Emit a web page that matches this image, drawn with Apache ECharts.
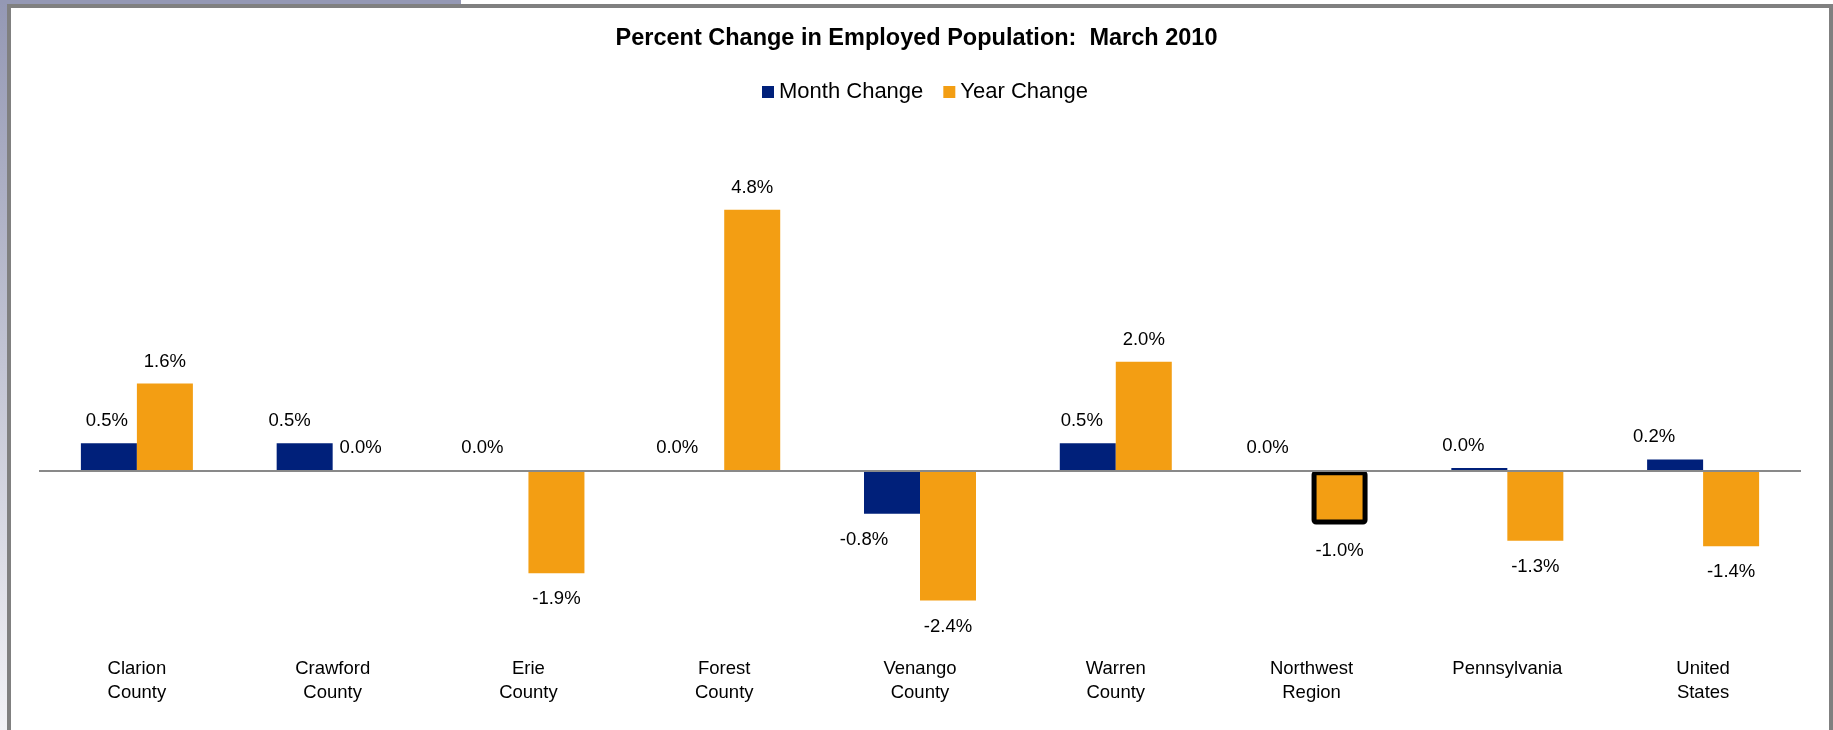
<!DOCTYPE html>
<html>
<head>
<meta charset="utf-8">
<script src="https://cdn.jsdelivr.net/npm/echarts@6/dist/echarts.min.js"></script>
<style>
  html, body { margin: 0; padding: 0; background: #ffffff; }
  #chart { width: 1833px; height: 730px; }
</style>
</head>
<body>
<div id="chart"></div>
<script>
// ---- data ----
const chartTitle = 'Percent Change in Employed Population:  March 2010';
const seriesNames = ['Month Change', 'Year Change'];
const categories = ['Clarion\nCounty', 'Crawford\nCounty', 'Erie\nCounty', 'Forest\nCounty', 'Venango\nCounty', 'Warren\nCounty', 'Northwest\nRegion', 'Pennsylvania', 'United\nStates'];
const monthChange = [0.5, 0.5, 0.0, 0.0, -0.8, 0.5, 0.0, 0.04, 0.2];
const yearChange = [1.6, 0.0, -1.9, 4.8, -2.4, 2.0, -1.0, -1.3, -1.4];

// ---- style ----
const BLUE = '#00207a';
const ORANGE = '#f39e13';
const LABEL_FONT = "'Liberation Sans', Arial, sans-serif";
const monthLabelShift = [-2, -15, -18, -19, -28, -6, -16, -16, -21];
const highlightYearIndex = 6;

function fmt(v) { return v.toFixed(1) + '%'; }

function buildItems(values, shifts, highlight) {
  return values.map(function (v, i) {
    const item = {
      value: v,
      label: {
        position: v < 0 ? 'bottom' : 'top',
        distance: v < 0 ? 14 : 10,
        offset: [shifts ? shifts[i] : 0, 0]
      }
    };
    if (i === highlight) {
      item.itemStyle = { borderColor: '#000000', borderWidth: 5, borderRadius: 2 };
    }
    return item;
  });
}

const labelStyle = {
  show: true,
  formatter: function (p) { return fmt(p.value); },
  fontFamily: LABEL_FONT,
  fontSize: 18.5,
  lineHeight: 24,
  color: '#000000'
};

const chart = echarts.init(document.getElementById('chart'), null, { renderer: 'canvas' });

chart.setOption({
  animation: false,
  backgroundColor: '#ffffff',
  title: {
    text: chartTitle,
    left: 'center',
    top: 27,
    padding: 0,
    textStyle: {
      fontFamily: "'Liberation Sans', Arial, sans-serif",
      fontSize: 23.5,
      fontWeight: 'bold',
      color: '#000000'
    }
  },
  legend: {
    data: seriesNames,
    left: 762,
    top: 81,
    padding: 0,
    icon: 'rect',
    itemWidth: 12,
    itemHeight: 12,
    itemGap: 20,
    textStyle: {
      fontFamily: "'Liberation Sans', Arial, sans-serif",
      fontSize: 22,
      color: '#000000'
    }
  },
  grid: {
    left: 39,
    right: 32,
    top: 199,
    height: 434,
    containLabel: false
  },
  xAxis: {
    type: 'category',
    data: categories,
    position: 'bottom',
    axisLine: { show: false, onZero: false },
    axisTick: { show: false },
    splitLine: { show: false },
    axisLabel: {
      interval: 0,
      margin: 24,
      fontFamily: LABEL_FONT,
      fontSize: 18.5,
      lineHeight: 24,
      color: '#000000'
    }
  },
  yAxis: {
    type: 'value',
    min: -3,
    max: 5,
    interval: 1,
    show: false,
    splitLine: { show: false }
  },
  series: [
    {
      name: seriesNames[0],
      type: 'bar',
      barWidth: 56,
      barGap: '0%',
      itemStyle: { color: BLUE },
      label: labelStyle,
      data: buildItems(monthChange, monthLabelShift, -1),
      markLine: {
        silent: true,
        symbol: ['none', 'none'],
        label: { show: false },
        lineStyle: { color: '#898989', width: 2, type: 'solid' },
        data: [{ yAxis: 0 }],
        z: 5
      }
    },
    {
      name: seriesNames[1],
      type: 'bar',
      barWidth: 56,
      barGap: '0%',
      itemStyle: { color: ORANGE },
      label: labelStyle,
      data: buildItems(yearChange, null, highlightYearIndex)
    }
  ],
  graphic: [
    {
      type: 'rect', silent: true, z: 100,
      shape: { x: 0, y: 0, width: 7, height: 730 },
      style: {
        fill: new echarts.graphic.LinearGradient(0, 0, 0, 1, [
          { offset: 0, color: '#9498b4' },
          { offset: 0.5, color: '#c3c5d4' },
          { offset: 1, color: '#f2f2f6' }
        ])
      }
    },
    { type: 'rect', silent: true, z: 100, shape: { x: 0, y: 0, width: 461, height: 4 }, style: { fill: '#9498b4' } },
    { type: 'rect', silent: true, z: 101, shape: { x: 7, y: 4, width: 1826, height: 4 }, style: { fill: '#808080' } },
    { type: 'rect', silent: true, z: 101, shape: { x: 7, y: 4, width: 4, height: 726 }, style: { fill: '#808080' } },
    { type: 'rect', silent: true, z: 101, shape: { x: 1829, y: 4, width: 4, height: 726 }, style: { fill: '#808080' } }
  ]
});
</script>
</body>
</html>
